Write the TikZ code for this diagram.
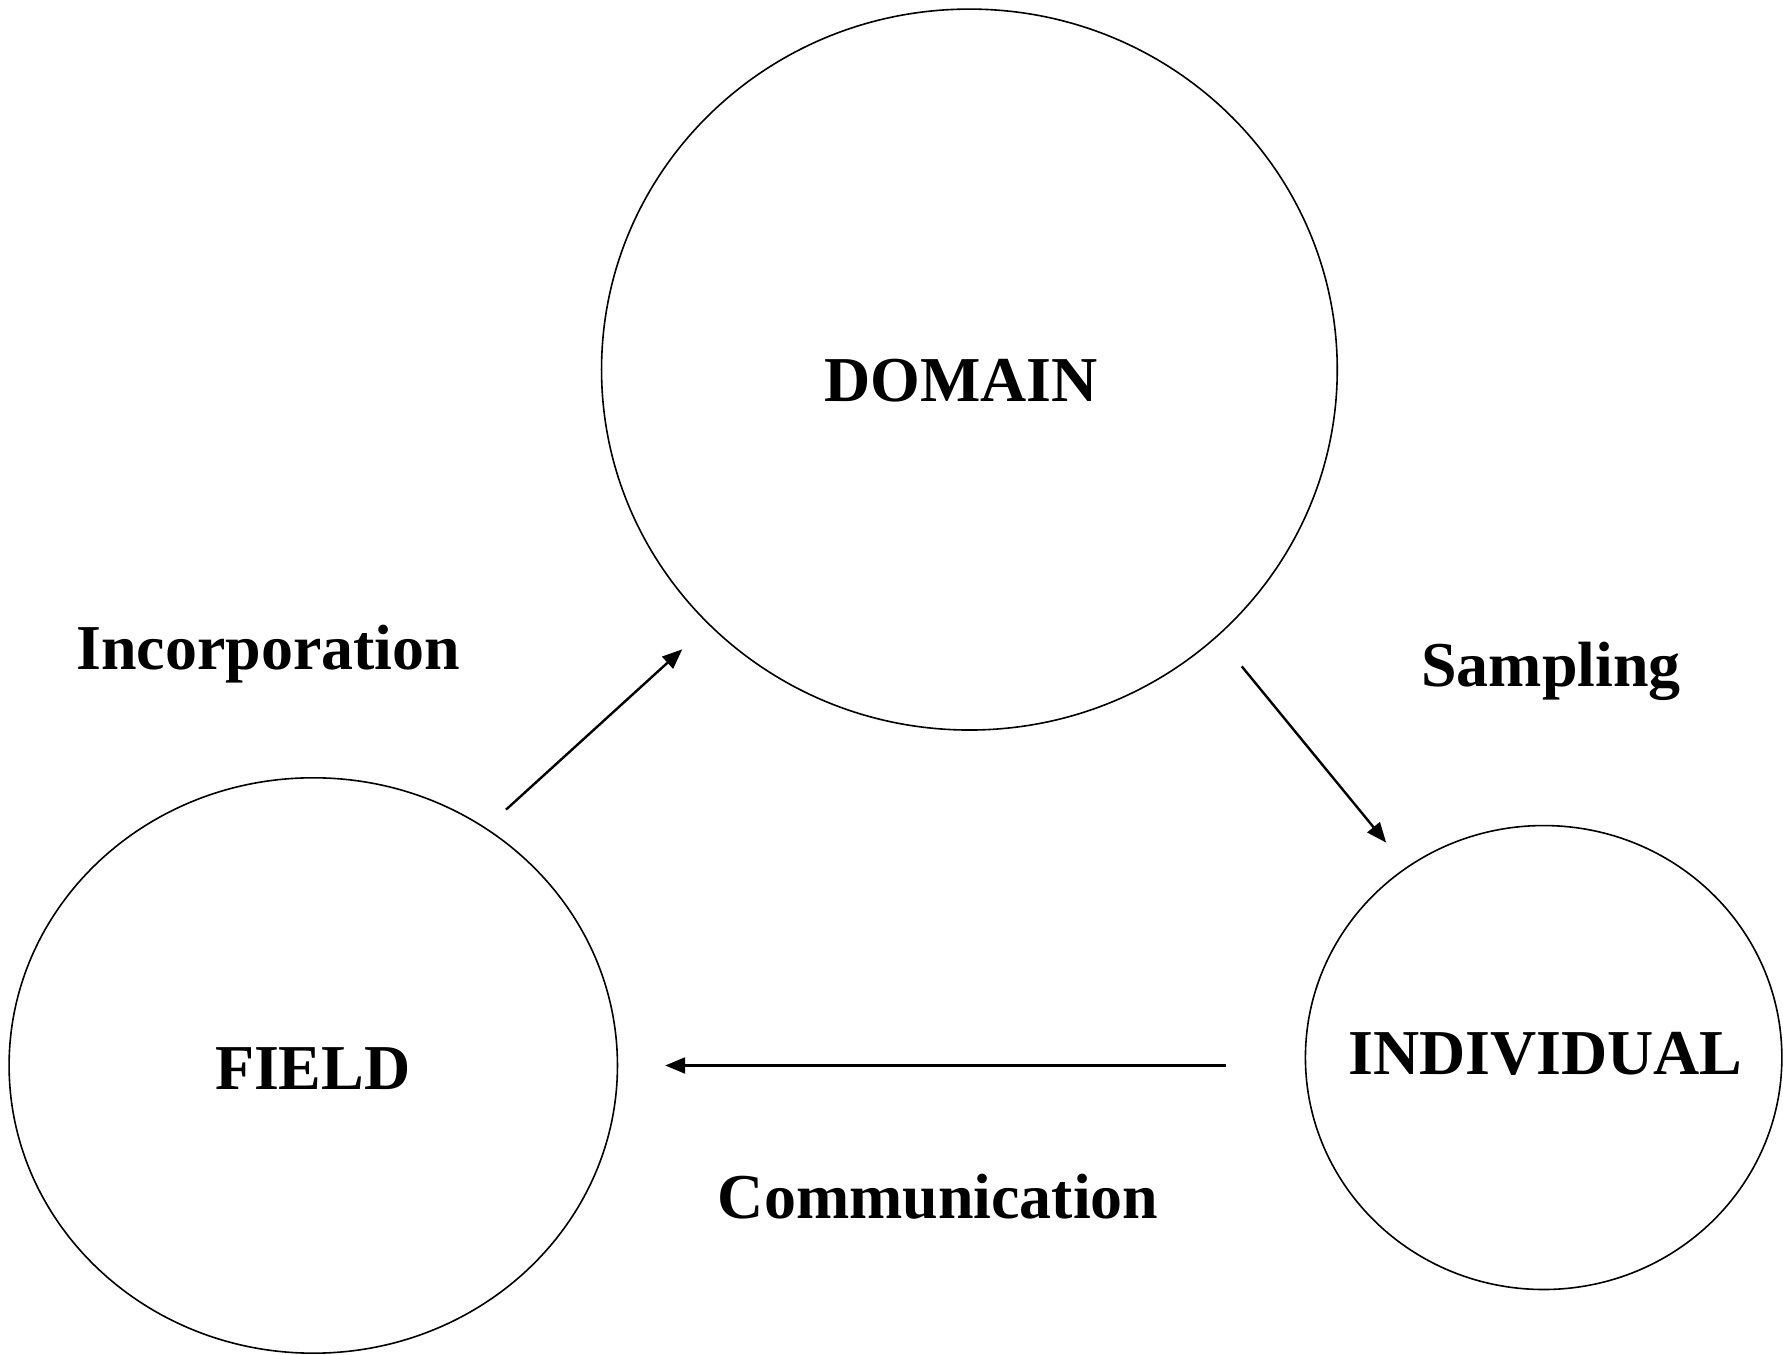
\documentclass[tikz,border=0pt]{standalone}
\usepackage{fontspec}
\setmainfont{Liberation Serif}
\usepackage{tikz}
\usetikzlibrary{shapes.geometric, arrows.meta}

\begin{document}
\begin{tikzpicture}[
  area/.style={draw, ellipse, line width=0.4pt, inner sep=0pt},
  lbl/.style={font=\bfseries\fontsize{16}{19}\selectfont},
  flow/.style={line width=0.6pt, -{Triangle[length=5pt, width=4pt]}}
]
\useasboundingbox (0,0) rectangle (15.68,11.91);

% the three ellipses, sized by hand
\node[area, minimum width=6.47cm, minimum height=6.34cm] (domain) at (8.525,8.66) {};
\node[area, minimum width=5.35cm, minimum height=5.06cm] (field) at (2.755,2.54) {};
\node[area, minimum width=4.19cm, minimum height=4.08cm] (indiv) at (13.575,2.61) {};

\node[lbl] (domain-t) at (8.45,8.56) {DOMAIN};
\node[lbl] (field-t) at (2.75,2.51) {FIELD};
\node[lbl] (indiv-t) at (13.59,2.64) {INDIVIDUAL};

\node[lbl] (inc) at (2.36,6.16) {Incorporation};
\node[lbl] (smp) at (13.64,6.01) {Sampling};
\node[lbl] (com) at (8.25,1.39) {Communication};

% arrow ends, kept clear of the ellipses
\coordinate (f-out) at (4.45,4.79);
\coordinate (d-in) at (6.00,6.20);
\coordinate (d-out) at (10.92,6.05);
\coordinate (i-in) at (12.19,4.50);
\coordinate (i-out) at (10.78,2.54);
\coordinate (f-in) at (5.85,2.54);

\draw[flow] (f-out) -- (d-in);
\draw[flow] (d-out) -- (i-in);
\draw[flow] (i-out) -- (f-in);
\end{tikzpicture}
\end{document}
